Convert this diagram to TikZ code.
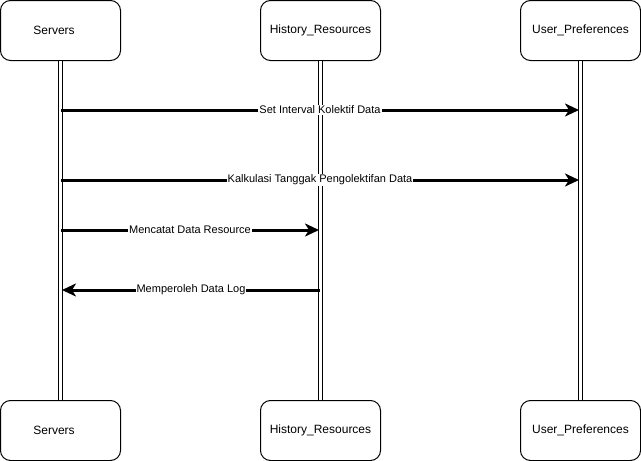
\documentclass[tikz,border=0pt]{standalone}
\usepackage{fontspec}
\setmainfont{Liberation Sans}
\usetikzlibrary{arrows.meta}
\begin{document}
\begin{tikzpicture}[x=1pt,y=-1pt,
  actor/.style={draw, line width=1pt, rounded corners=10pt, minimum width=120pt,
    minimum height=60pt, inner sep=0pt, font=\fontsize{12}{14}\selectfont},
  lifeline/.style={double, double distance=3pt, line width=1pt},
  msg/.style={line width=3pt, -{Stealth[length=14pt,width=13pt,inset=4pt]}},
  msglabel/.style={midway, fill=white, inner sep=1pt, font=\fontsize{11}{13}\selectfont}]
  \useasboundingbox (0,0) rectangle (641,461);
  % participant heads and feet
  \node[actor] (srvT) at (60.5,30.5) {Servers\hspace*{13pt}};
  \node[actor] (hisT) at (320.5,30.5) {History\_Resources};
  \node[actor] (usrT) at (580.5,30.5) {User\_Preferences};
  \node[actor] (srvB) at (60.5,430.5) {Servers\hspace*{13pt}};
  \node[actor] (hisB) at (320.5,430.5) {History\_Resources};
  \node[actor] (usrB) at (580.5,430.5) {User\_Preferences};
  % lifelines
  \draw[lifeline] (srvT.south) -- (srvB.north);
  \draw[lifeline] (hisT.south) -- (hisB.north);
  \draw[lifeline] (usrT.south) -- (usrB.north);
  % message anchors on the lifelines
  \coordinate (s1) at (61,110);  \coordinate (u1) at (579,110);
  \coordinate (s2) at (61,180);  \coordinate (u2) at (579,180);
  \coordinate (s3) at (61,230);  \coordinate (h3) at (319,230);
  \coordinate (s4) at (62,290);  \coordinate (h4) at (320,290);
  % messages
  \draw[msg] (s1) -- (u1) node[msglabel] {Set Interval Kolektif Data};
  \draw[msg] (s2) -- (u2) node[msglabel] {Kalkulasi Tanggak Pengolektifan Data};
  \draw[msg] (s3) -- (h3) node[msglabel] {Mencatat Data Resource};
  \draw[msg] (h4) -- (s4) node[msglabel] {Memperoleh Data Log};
\end{tikzpicture}
\end{document}
